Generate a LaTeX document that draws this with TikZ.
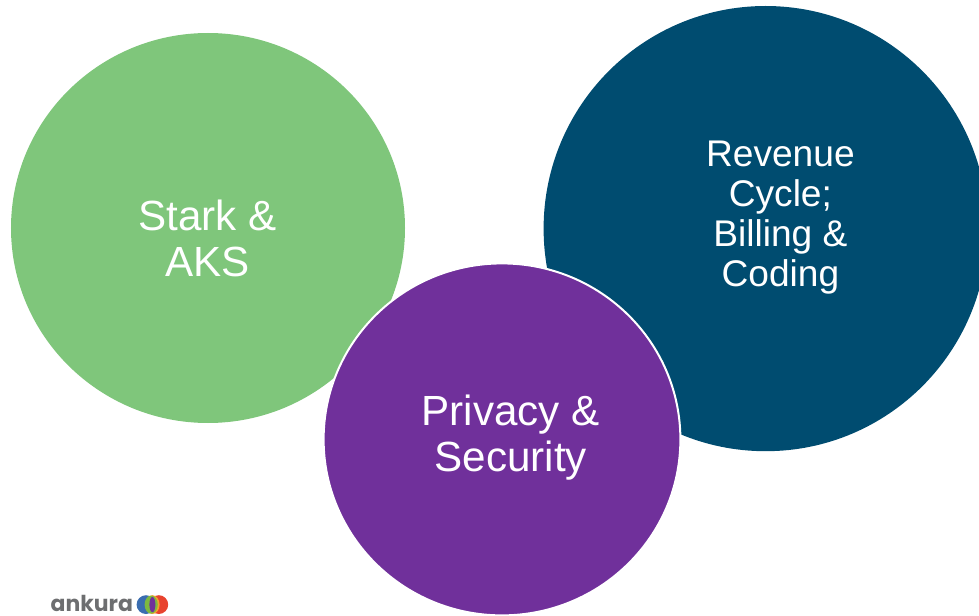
\documentclass[tikz,border=0pt]{standalone}
\usepackage{xcolor}
\usepackage{fontspec}
\setmainfont{Liberation Sans}
\newfontfamily\logofont{Poppins}
\usepackage{tikz}
\usetikzlibrary{shapes.geometric}

\definecolor{starkgreen}{HTML}{7FC67B}
\definecolor{revenueblue}{HTML}{004C70}
\definecolor{privacypurple}{HTML}{70309B}
\definecolor{logogray}{HTML}{6D6E70}
\definecolor{logoblue}{HTML}{3A6DB0}
\definecolor{logogreen}{HTML}{7DB93F}
\definecolor{logored}{HTML}{E8432E}
\definecolor{logoorange}{HTML}{F2A02D}

\begin{document}
\begin{tikzpicture}
	\tikzset{bubble/.style = {shape=ellipse,inner sep=0pt,draw=none}}
	\tikzset{bubbletext/.style = {align=center,text=white}}
	\tikzset{logodot/.style = {shape=circle,inner sep=0pt,minimum size=0.47cm}}

	\useasboundingbox (0,0) rectangle (24.475,15.375);

	% circles

	\node[bubble,fill=starkgreen,minimum width=9.85cm,minimum height=9.75cm] (stark) at (5.2,9.675) {};

	\node[bubble,fill=revenueblue,minimum width=11.1cm,minimum height=11.13cm] (revenue) at (19.14,9.66) {};

	\node[bubble,fill=privacypurple,draw=white,line width=0.05cm,minimum width=8.92cm,minimum height=8.8cm] (privacy) at (12.55,4.39) {};

	% texts

	\node[bubbletext,font=\fontsize{30}{33}\selectfont] (starktext) at (5.19,9.41) {Stark \&\\AKS};

	\node[bubbletext,font=\fontsize{26.4}{28.5}\selectfont] (revenuetext) at (19.51,9.94) {Revenue\\Cycle;\\Billing \&\\Coding};

	\node[bubbletext,font=\fontsize{30}{33}\selectfont] (privacytext) at (12.77,4.43) {Privacy \&\\Security};

	% logo

	\node[logodot,fill=logoblue] (logoa) at (3.65,0.26) {};

	\node[logodot,fill=logored] (logoc) at (3.97,0.26) {};

	\node[shape=ellipse,inner sep=0pt,fill=logoorange,minimum width=0.36cm,minimum height=0.47cm] (logob) at (3.81,0.26) {};

	\node[shape=ellipse,inner sep=0pt,fill=logogreen,minimum width=0.33cm,minimum height=0.45cm] (logoe) at (3.78,0.26) {};

	\node[shape=ellipse,inner sep=0pt,fill=privacypurple,minimum width=0.15cm,minimum height=0.38cm] (logod) at (3.81,0.26) {};

	\node[anchor=base west,inner sep=0pt,text=logogray,font=\logofont\fontsize{15.6}{18}\selectfont\bfseries] (logotext) at (1.26,0.1) {ankura};
\end{tikzpicture}
\end{document}
